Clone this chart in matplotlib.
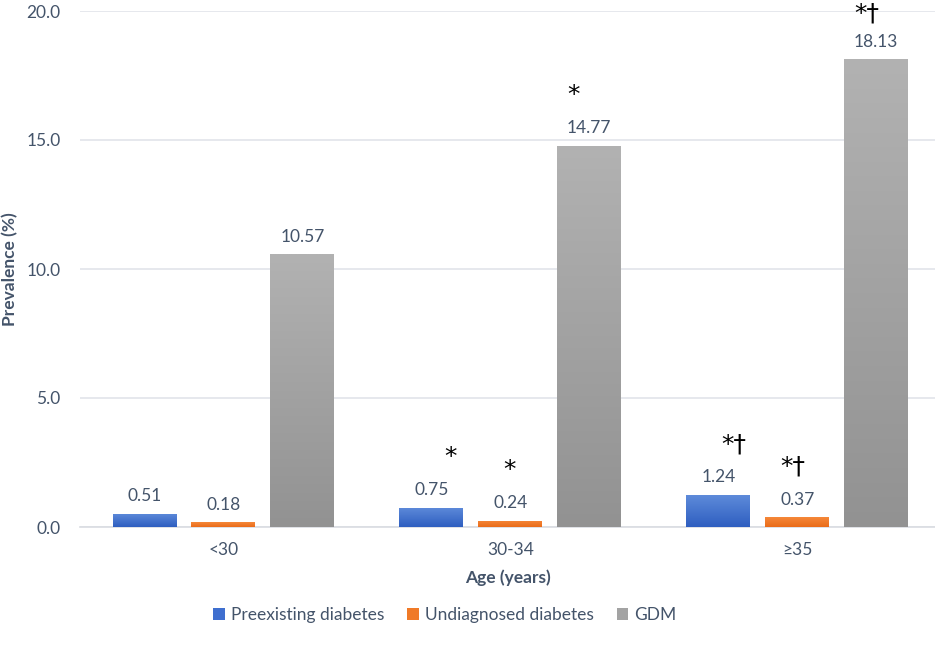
import matplotlib
matplotlib.use("Agg")
import matplotlib.pyplot as plt
import numpy as np
from matplotlib.patches import Patch
from matplotlib.colors import LinearSegmentedColormap

categories = ["<30", "30-34", "\u226535"]
series_names = ["Preexisting diabetes", "Undiagnosed diabetes", "GDM"]
preexisting = [0.51, 0.75, 1.24]
undiagnosed = [0.18, 0.24, 0.37]
gdm = [10.57, 14.77, 18.13]
# significance marks per series per category
marks_pre = ["", "*", "*\u2020"]
marks_und = ["", "*", "*\u2020"]
marks_gdm = ["", "*", "*\u2020"]
yticks = [0, 5, 10, 15, 20]

plt.rcParams['font.family'] = ['Lato', 'DejaVu Sans']
txt_color = "#44546A"
fs = 12.5

fig = plt.figure(figsize=(9.35, 6.47), dpi=100)
ax = fig.add_axes([80/935, 120/647, 1 - 80/935, (527-11)/647])

values = [preexisting, undiagnosed, gdm]
marks = [marks_pre, marks_und, marks_gdm]
grads = [("#5E8BDA", "#2E5EC0"), ("#F5883A", "#EA6B18"), ("#B2B2B2", "#929292")]
solid = ["#3F6FCF", "#F07A28", "#A3A3A3"]
bw = 0.223
off = 0.275
mark_dx = [[0, 19, 15], [0, -1, -4], [0, -16, -9]]  # pixels, horizontal nudge of marks
mark_dy = [[28, 28, 28], [28, 28, 28], [28, 28, 24]]  # points above bar top

x = np.arange(len(categories))
for i, (vals, (ctop, cbot)) in enumerate(zip(values, grads)):
    pos = x + (i - 1) * off
    bars = ax.bar(pos, vals, width=bw, color="none", edgecolor="none", zorder=3)
    cmap = LinearSegmentedColormap.from_list("g%d" % i, [cbot, ctop])
    grad = np.linspace(0, 1, 256).reshape(-1, 1)
    for b, v in zip(bars, vals):
        im = ax.imshow(grad, cmap=cmap, origin="lower", aspect="auto",
                       extent=[b.get_x(), b.get_x() + b.get_width(), 0, v], zorder=3)
        im.set_clip_path(b)
    for j, (p, v) in enumerate(zip(pos, vals)):
        ax.annotate(f"{v:.2f}", (p, v), xytext=(0, 7), textcoords="offset points",
                    ha="center", va="bottom", fontsize=fs, color=txt_color)
        m = marks[i][j]
        if m:
            ax.annotate(m, (p, v), xytext=(mark_dx[i][j] * 0.72, mark_dy[i][j]),
                        textcoords="offset points", ha="center", va="bottom",
                        fontsize=18, color="black", family=['DejaVu Sans'],
                        annotation_clip=False)

ax.set_xlim(-0.5, 2.48)
ax.set_ylim(0, 20)
ax.set_yticks(yticks)
ax.set_yticklabels([f"{t:.1f}" for t in yticks])
ax.set_xticks(x)
ax.set_xticklabels(categories)
ax.tick_params(axis="both", length=0, labelsize=fs, labelcolor=txt_color)
ax.tick_params(axis="y", pad=14)
ax.tick_params(axis="x", pad=11)
ax.grid(axis="y", color="#E1E4EA", linewidth=1.2, zorder=0)
ax.set_axisbelow(True)
for s in ["top", "right", "left"]:
    ax.spines[s].set_visible(False)
ax.spines["bottom"].set_color("#D9DCE2")
ax.spines["bottom"].set_linewidth(1.2)

ax.set_ylabel("Prevalence (%)", fontsize=fs, fontweight="bold", color=txt_color, labelpad=6)
ax.set_xlabel("Age (years)", fontsize=fs, fontweight="bold", color=txt_color, labelpad=8)

handles = [Patch(facecolor=c, edgecolor="none") for c in solid]
fig.legend(handles, series_names, loc="center", bbox_to_anchor=(445/935, 1 - 615/647),
           ncol=3, frameon=False, fontsize=fs, handlelength=0.65, handleheight=0.65,
           handletextpad=0.35, columnspacing=1.35, labelcolor=txt_color)

fig.savefig("out.png", dpi=100)
